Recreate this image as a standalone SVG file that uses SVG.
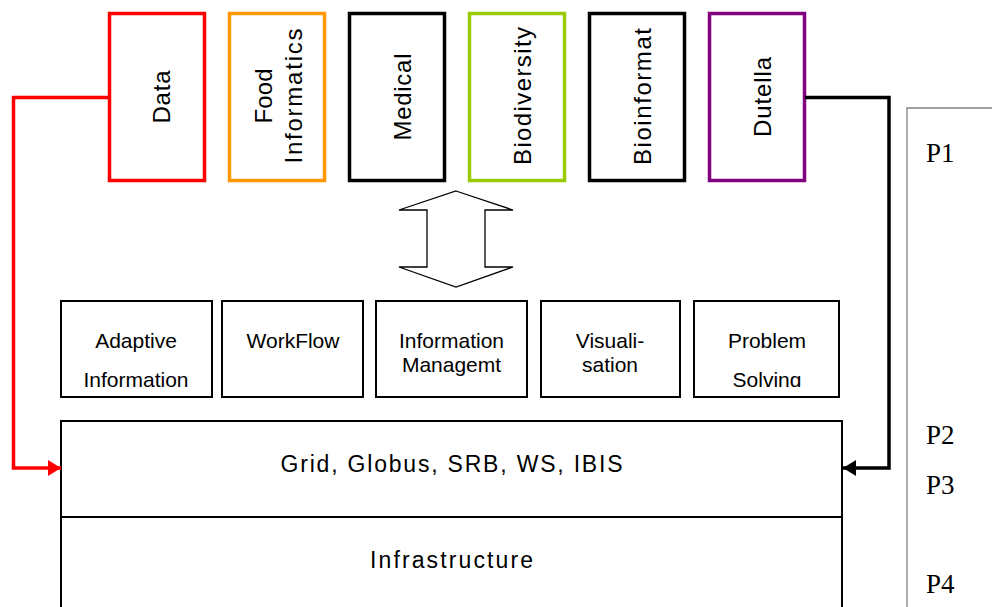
<svg xmlns="http://www.w3.org/2000/svg" width="992" height="607" viewBox="0 0 992 607">
  <style>
    .domain rect { fill: #ffffff; stroke-width: 3.5; }
    .domain text { font-family: "Liberation Sans", Arial, sans-serif; font-size: 24px; fill: #000; text-anchor: middle; }
    .service rect { fill: #ffffff; stroke: #000; stroke-width: 2; }
    .service text { font-family: "Liberation Sans", Arial, sans-serif; font-size: 21px; fill: #000; text-anchor: middle; }
    .layer rect { fill: #ffffff; stroke: #000; stroke-width: 2; }
    .layer text { font-family: "Liberation Sans", Arial, sans-serif; font-size: 23px; fill: #000; text-anchor: middle; }
    .phase text { font-family: "Liberation Serif", "Times New Roman", serif; font-size: 27px; fill: #000; }
    .link { fill: none; stroke-width: 3.5; }
  </style>
  <defs>
    <marker id="headRed" markerUnits="userSpaceOnUse" markerWidth="14" markerHeight="16" refX="13" refY="8" orient="auto">
      <path d="M0,0 L13,8 L0,16 z" fill="#ff0000"/>
    </marker>
    <marker id="headBlack" markerUnits="userSpaceOnUse" markerWidth="14" markerHeight="16" refX="13" refY="8" orient="auto">
      <path d="M0,0 L13,8 L0,16 z" fill="#000000"/>
    </marker>
    <clipPath id="clipAdaptive"><rect x="62" y="302" width="149" height="85"/></clipPath>
    <clipPath id="clipProblem"><rect x="695" y="302" width="143" height="85"/></clipPath>
  </defs>

  <rect width="992" height="607" fill="#ffffff"/>

  <!-- Application domains -->
  <g id="domain-data" class="domain">
    <rect x="109.5" y="13.5" width="95" height="167" stroke="#ff0000"/>
    <text transform="translate(170,97) rotate(-90)" textLength="53" lengthAdjust="spacing">Data</text>
  </g>
  <g id="domain-food" class="domain">
    <rect x="229.5" y="13.5" width="95" height="167" stroke="#ff9900"/>
    <text transform="translate(272,96) rotate(-90)" textLength="55" lengthAdjust="spacing">Food</text>
    <text transform="translate(302,96) rotate(-90)" textLength="135" lengthAdjust="spacing">Informatics</text>
  </g>
  <g id="domain-medical" class="domain">
    <rect x="349.5" y="13.5" width="95" height="167" stroke="#000000"/>
    <text transform="translate(411,97) rotate(-90)" textLength="87" lengthAdjust="spacing">Medical</text>
  </g>
  <g id="domain-biodiversity" class="domain">
    <rect x="469.5" y="13.5" width="95" height="167" stroke="#99cc00"/>
    <text transform="translate(531,96) rotate(-90)" textLength="138" lengthAdjust="spacing">Biodiversity</text>
  </g>
  <g id="domain-bioinformat" class="domain">
    <rect x="589.5" y="13.5" width="95" height="167" stroke="#000000"/>
    <text transform="translate(651,96.5) rotate(-90)" textLength="137" lengthAdjust="spacing">Bioinformat</text>
  </g>
  <g id="domain-dutella" class="domain">
    <rect x="709.5" y="13.5" width="95" height="167" stroke="#800080"/>
    <text transform="translate(771,97) rotate(-90)" textLength="80" lengthAdjust="spacing">Dutella</text>
  </g>

  <!-- Two-way exchange between domains and services -->
  <g id="exchange">
    <path d="M456,191 L513,210 L485,210 L485,267 L513,267 L456,287 L399,267 L427,267 L427,210 L399,210 Z" fill="#ffffff" stroke="#000" stroke-width="1.3" stroke-linejoin="miter"/>
  </g>

  <!-- Middleware services -->
  <g id="svc-adaptive" class="service">
    <rect x="61" y="301" width="151" height="96"/>
    <g clip-path="url(#clipAdaptive)">
      <text x="136" y="348">Adaptive</text>
      <text x="136" y="387">Information</text>
    </g>
  </g>
  <g id="svc-workflow" class="service">
    <rect x="222" y="301" width="141" height="96"/>
    <text x="293" y="348">WorkFlow</text>
  </g>
  <g id="svc-information" class="service">
    <rect x="376" y="301" width="151" height="96"/>
    <text x="451.5" y="348">Information</text>
    <text x="451.5" y="372">Managemt</text>
  </g>
  <g id="svc-visualisation" class="service">
    <rect x="541" y="301" width="139" height="96"/>
    <text x="610" y="348">Visuali-</text>
    <text x="610" y="372">sation</text>
  </g>
  <g id="svc-problem" class="service">
    <rect x="694" y="301" width="145" height="96"/>
    <g clip-path="url(#clipProblem)">
      <text x="767" y="348">Problem</text>
      <text x="767" y="387">Solving</text>
    </g>
  </g>

  <!-- Base layers -->
  <g id="layer-grid" class="layer">
    <rect x="61" y="421" width="781" height="96"/>
    <text x="451.5" y="472" textLength="342" lengthAdjust="spacing">Grid, Globus, SRB, WS, IBIS</text>
  </g>
  <g id="layer-infrastructure" class="layer">
    <rect x="61" y="517" width="781" height="110"/>
    <text x="451.5" y="568" textLength="163" lengthAdjust="spacing">Infrastructure</text>
  </g>

  <!-- Phase panel -->
  <g id="phases" class="phase">
    <path d="M907,620 L907,108 L1000,108" fill="none" stroke="#808080" stroke-width="1.3"/>
    <text x="926" y="162">P1</text>
    <text x="926" y="444">P2</text>
    <text x="926" y="494">P3</text>
    <text x="926" y="593">P4</text>
  </g>

  <!-- Connectors -->
  <g id="connectors">
    <path class="link" d="M109,97.5 L13.5,97.5 L13.5,468 L61,468" stroke="#ff0000" marker-end="url(#headRed)"/>
    <path class="link" d="M805,97.5 L889,97.5 L889,468 L843,468" stroke="#000000" marker-end="url(#headBlack)"/>
  </g>
</svg>
